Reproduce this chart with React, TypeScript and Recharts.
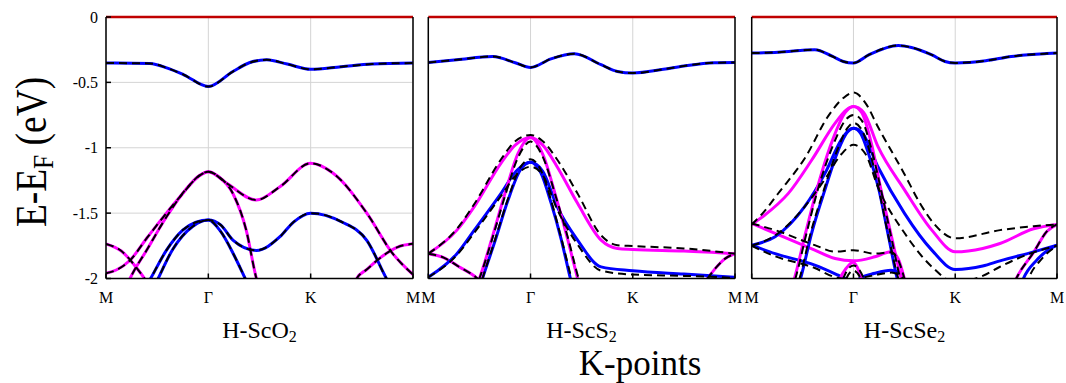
import React from 'react';
import { LineChart, Line, XAxis, YAxis, CartesianGrid, ReferenceLine } from 'recharts';

type Pt = [number, number];

// ---------- axes ----------
const kTicks = [0, 1, 2, 3];
const kLabels = ['M', 'Γ', 'K', 'M'];
const eTicks = [0, -0.5, -1, -1.5, -2];
const panelTitles = ['ScO', 'ScS', 'ScSe'];

// ---------- H-ScO2 bands (k, E) ----------
const p1Top: Pt[] = [[0,-0.352],[0.43,-0.355],[0.6,-0.391],[0.76,-0.442],[1.0,-0.532],[1.24,-0.417],[1.4,-0.35],[1.57,-0.327],[1.77,-0.36],[2.0,-0.40],[2.3,-0.38],[2.6,-0.36],[3.0,-0.352]];
const p1A: Pt[] = [[0,-1.96],[0.1,-1.935],[0.235,-1.86],[0.4,-1.69],[0.59,-1.50],[0.75,-1.35],[0.9,-1.22],[1.0,-1.183],[1.18,-1.272],[1.47,-1.40],[1.70,-1.298],[2.0,-1.119],[2.22,-1.195],[2.55,-1.502],[2.8,-1.808],[3.0,-1.97]];
const p1B: Pt[] = [[0.2,-2.06],[0.235,-2.0],[0.4,-1.78],[0.59,-1.53],[0.8,-1.30],[0.92,-1.21],[1.0,-1.183],[1.1,-1.22],[1.24,-1.35],[1.37,-1.63],[1.47,-2.0],[1.52,-2.12]];
const p1C: Pt[] = [[0,-1.735],[0.15,-1.79],[0.3,-1.92],[0.4,-2.03],[0.6,-2.4],[2.3,-2.4],[2.45,-2.0],[2.55,-1.93],[2.7,-1.83],[2.85,-1.76],[3.0,-1.735]];
const p1D: Pt[] = [[0.40,-2.05],[0.45,-1.98],[0.59,-1.785],[0.75,-1.63],[0.88,-1.57],[1.0,-1.553],[1.12,-1.59],[1.24,-1.706],[1.47,-1.785],[1.7,-1.68],[1.83,-1.57],[2.0,-1.50],[2.3,-1.566],[2.55,-1.71],[2.74,-2.0],[2.85,-2.15]];
const p1E: Pt[] = [[0.48,-2.05],[0.51,-2.0],[0.65,-1.78],[0.85,-1.6],[1.0,-1.553],[1.12,-1.64],[1.25,-1.82],[1.36,-2.0],[1.42,-2.1]];

// ---------- H-ScS2 bands ----------
const p2Top: Pt[] = [[0,-0.348],[0.28,-0.327],[0.63,-0.302],[0.85,-0.35],[1.0,-0.386],[1.2,-0.32],[1.43,-0.281],[1.69,-0.365],[1.85,-0.417],[2.0,-0.429],[2.3,-0.40],[2.5,-0.375],[2.8,-0.35],[3.0,-0.348]];
const p2MW: Pt[] = [[0,-1.81],[0.28,-1.63],[0.45,-1.45],[0.71,-1.119],[0.85,-0.98],[1.0,-0.922],[1.12,-0.98],[1.26,-1.145],[1.46,-1.425],[1.69,-1.706],[1.85,-1.77],[2.0,-1.778],[2.5,-1.79],[3.0,-1.81]];
const p2BW: Pt[] = [[0,-1.99],[0.28,-1.81],[0.45,-1.63],[0.71,-1.35],[0.87,-1.17],[1.0,-1.111],[1.12,-1.18],[1.26,-1.451],[1.46,-1.706],[1.69,-1.911],[2.0,-1.94],[2.5,-1.966],[3.0,-1.99]];
const p2MS: Pt[] = [[0.45,-2.1],[0.5,-2.0],[0.62,-1.7],[0.75,-1.35],[0.88,-1.04],[1.0,-0.922],[1.12,-1.05],[1.25,-1.38],[1.37,-1.72],[1.46,-2.0],[1.5,-2.12]];
const p2BS: Pt[] = [[0.49,-2.1],[0.53,-2.0],[0.65,-1.72],[0.78,-1.40],[0.9,-1.17],[1.0,-1.111],[1.1,-1.19],[1.2,-1.42],[1.3,-1.70],[1.39,-2.0],[1.43,-2.12]];
const p2C: Pt[] = [[0,-1.81],[0.15,-1.84],[0.3,-1.91],[0.48,-2.0],[0.6,-2.1],[1.0,-2.6],[2.0,-2.6],[2.5,-2.15],[2.73,-2.0],[2.8,-1.93],[2.9,-1.85],[3.0,-1.81]];
const p2MWd: Pt[] = [[0,-1.81],[0.28,-1.62],[0.45,-1.43],[0.71,-1.09],[0.85,-0.95],[1.0,-0.902],[1.12,-0.95],[1.26,-1.09],[1.46,-1.35],[1.69,-1.67],[1.85,-1.745],[2.0,-1.752],[2.5,-1.77],[3.0,-1.81]];
const p2BWd: Pt[] = [[0,-1.99],[0.28,-1.82],[0.45,-1.65],[0.71,-1.37],[0.87,-1.20],[1.0,-1.145],[1.12,-1.21],[1.26,-1.47],[1.46,-1.74],[1.69,-1.94],[2.0,-1.97],[2.5,-1.98],[3.0,-1.995]];
const p2MSd: Pt[] = [[0.45,-2.1],[0.5,-2.0],[0.62,-1.71],[0.75,-1.37],[0.88,-1.07],[1.0,-0.953],[1.12,-1.07],[1.25,-1.38],[1.37,-1.70],[1.47,-2.0],[1.52,-2.12]];
const p2BSd: Pt[] = [[0.49,-2.1],[0.53,-2.0],[0.65,-1.71],[0.78,-1.39],[0.9,-1.15],[1.0,-1.088],[1.1,-1.17],[1.2,-1.40],[1.3,-1.69],[1.40,-2.0],[1.44,-2.12]];

// ---------- H-ScSe2 bands ----------
const p3Top: Pt[] = [[0,-0.276],[0.26,-0.27],[0.62,-0.25],[0.79,-0.30],[0.9,-0.34],[1.0,-0.352],[1.15,-0.29],[1.44,-0.218],[1.57,-0.233],[1.77,-0.29],[1.9,-0.34],[2.0,-0.352],[2.3,-0.335],[2.55,-0.302],[2.9,-0.28],[3.0,-0.276]];
const p3MW: Pt[] = [[0,-1.587],[0.12,-1.52],[0.36,-1.349],[0.59,-1.094],[0.82,-0.812],[0.93,-0.71],[1.0,-0.685],[1.1,-0.73],[1.24,-0.99],[1.5,-1.32],[1.77,-1.63],[2.0,-1.796],[2.27,-1.77],[2.44,-1.732],[2.77,-1.62],[3.0,-1.587]];
const p3BW: Pt[] = [[0,-1.745],[0.23,-1.68],[0.52,-1.45],[0.72,-1.196],[0.88,-0.94],[0.95,-0.87],[1.0,-0.851],[1.08,-0.88],[1.24,-1.145],[1.5,-1.50],[1.77,-1.783],[2.0,-1.931],[2.27,-1.905],[2.44,-1.865],[2.77,-1.796],[3.0,-1.745]];
const p3MS: Pt[] = [[0.38,-2.1],[0.42,-2.0],[0.53,-1.65],[0.64,-1.32],[0.8,-0.93],[0.92,-0.73],[1.0,-0.685],[1.08,-0.73],[1.18,-0.98],[1.27,-1.32],[1.38,-1.70],[1.47,-2.0],[1.51,-2.1]];
const p3BS: Pt[] = [[0.44,-2.1],[0.48,-2.0],[0.59,-1.65],[0.72,-1.32],[0.85,-1.02],[0.94,-0.88],[1.0,-0.851],[1.07,-0.89],[1.15,-1.05],[1.25,-1.32],[1.35,-1.70],[1.43,-2.0],[1.47,-2.1]];
const p3ML: Pt[] = [[0,-1.579],[0.23,-1.655],[0.62,-1.783],[0.82,-1.847],[1.0,-1.865],[1.21,-1.834],[1.37,-1.795],[1.44,-1.85],[1.5,-2.0],[1.56,-2.2]];
const p3MR: Pt[] = [[2.45,-2.3],[2.6,-2.0],[2.77,-1.80],[2.9,-1.64],[3.0,-1.587]];
const p3MArc: Pt[] = [[0.83,-2.1],[0.87,-2.0],[0.93,-1.92],[1.0,-1.875],[1.04,-1.92],[1.08,-2.0],[1.11,-2.1]];
const p3BL: Pt[] = [[0,-1.745],[0.23,-1.81],[0.62,-1.898],[0.85,-1.975],[0.92,-2.0],[1.0,-2.05]];
const p3BLb: Pt[] = [[1.0,-2.06],[1.06,-2.0],[1.21,-1.96],[1.37,-1.937],[1.45,-1.96],[1.49,-2.0],[1.53,-2.1]];
const p3BR: Pt[] = [[2.55,-2.3],[2.67,-2.0],[2.8,-1.86],[2.9,-1.79],[3.0,-1.745]];
const p3DA: Pt[] = [[0,-1.587],[0.12,-1.49],[0.26,-1.35],[0.53,-1.07],[0.75,-0.76],[0.9,-0.62],[1.0,-0.578],[1.12,-0.66],[1.24,-0.84],[1.5,-1.20],[1.65,-1.42],[1.78,-1.57],[2.0,-1.693],[2.44,-1.63],[2.77,-1.60],[3.0,-1.587]];
const p3DB: Pt[] = [[0.39,-2.1],[0.43,-2.0],[0.54,-1.65],[0.65,-1.32],[0.8,-0.98],[0.92,-0.79],[1.0,-0.749],[1.08,-0.79],[1.18,-1.02],[1.27,-1.32],[1.37,-1.68],[1.46,-2.0],[1.5,-2.1]];
const p3DC: Pt[] = [[0.43,-2.1],[0.47,-2.0],[0.58,-1.65],[0.71,-1.32],[0.85,-1.0],[0.94,-0.85],[1.0,-0.81],[1.07,-0.85],[1.16,-1.03],[1.25,-1.32],[1.35,-1.70],[1.44,-2.0],[1.48,-2.1]];
const p3DD: Pt[] = [[0,-1.75],[0.25,-1.66],[0.5,-1.47],[0.72,-1.24],[0.88,-1.05],[1.0,-0.978],[1.12,-1.05],[1.24,-1.30],[1.5,-1.65],[1.77,-1.91],[2.0,-2.03],[2.27,-1.98],[2.44,-1.91],[2.77,-1.80],[3.0,-1.75]];
const p3DL: Pt[] = [[0,-1.579],[0.23,-1.63],[0.62,-1.745],[0.82,-1.795],[1.0,-1.783],[1.21,-1.81],[1.37,-1.80],[1.44,-1.86],[1.5,-2.0],[1.56,-2.2]];
const p3DBL: Pt[] = [[0,-1.75],[0.23,-1.83],[0.62,-1.92],[0.82,-1.99],[0.88,-2.0],[1.0,-2.08]];
const p3DBLb: Pt[] = [[1.02,-2.06],[1.08,-2.0],[1.21,-1.975],[1.37,-1.955],[1.45,-1.975],[1.5,-2.02],[1.54,-2.1]];
const p3DArc1: Pt[] = [[0.86,-2.1],[0.9,-2.0],[1.0,-1.90],[1.1,-2.0],[1.14,-2.1]];
const p3DArc2: Pt[] = [[0.9,-2.1],[0.93,-2.0],[1.0,-1.94],[1.07,-2.0],[1.1,-2.1]];
const p3DBR: Pt[] = [[2.62,-2.25],[2.72,-2.0],[2.85,-1.85],[3.0,-1.75]];

// ---------- styling ----------
const FONT = "'Liberation Serif', 'Times New Roman', 'DejaVu Serif', serif";
const BLUE = '#0000ff';
const MAG = '#ff00ff';

type Band = { pts: Pt[]; color: string };

const panels: { left: number; width: number; mLeft: number; yW: number; showY: boolean; solid: Band[]; dashed: Pt[][] }[] = [
  {
    left: 0, width: 420, mLeft: 0, yW: 106, showY: true,
    solid: [
      { pts: p1Top, color: BLUE }, { pts: p1A, color: MAG }, { pts: p1B, color: MAG }, { pts: p1C, color: MAG },
      { pts: p1D, color: BLUE }, { pts: p1E, color: BLUE },
    ],
    dashed: [p1Top, p1A, p1B, p1C, p1D, p1E],
  },
  {
    left: 420, width: 322, mLeft: 7.3, yW: 1, showY: false,
    solid: [
      { pts: p2Top, color: BLUE }, { pts: p2C, color: MAG }, { pts: p2BW, color: BLUE }, { pts: p2BS, color: BLUE },
      { pts: p2MW, color: MAG }, { pts: p2MS, color: MAG },
    ],
    dashed: [p2Top, p2C, p2MWd, p2BWd, p2MSd, p2BSd],
  },
  {
    left: 744, width: 320, mLeft: 6.7, yW: 1, showY: false,
    solid: [
      { pts: p3Top, color: BLUE }, { pts: p3BL, color: BLUE }, { pts: p3BLb, color: BLUE }, { pts: p3BR, color: BLUE },
      { pts: p3ML, color: MAG }, { pts: p3MR, color: MAG }, { pts: p3MArc, color: MAG },
      { pts: p3BW, color: BLUE }, { pts: p3BS, color: BLUE }, { pts: p3MW, color: MAG }, { pts: p3MS, color: MAG },
    ],
    dashed: [p3Top, p3DA, p3DB, p3DC, p3DD, p3DL, p3DBL, p3DBLb, p3DArc1, p3DArc2, p3MR, p3DBR],
  },
];

const toData = (pts: Pt[]) => pts.map(([k, e]) => ({ k, e }));

const tickStyle = { fontSize: 16, fontFamily: FONT, fill: '#000' };

function Panel(p: (typeof panels)[number]) {
  return (
    <div style={{ position: 'absolute', left: p.left, top: 0, fontFamily: FONT, fontSize: 16 }}>
      <LineChart width={p.width} height={383} margin={{ top: 16, right: 6, bottom: 0, left: p.mLeft }} style={{ fontFamily: FONT }}>
        <CartesianGrid xAxisId="b" yAxisId="l" stroke="#d4d4d4" strokeWidth={1} />
        <XAxis
          xAxisId="b" dataKey="k" type="number" domain={[0, 3]} ticks={kTicks} interval={0}
          tickFormatter={(v: number) => kLabels[v]} height={104.5} tickSize={-5} tickMargin={18}
          stroke="#000" strokeWidth={1.5} allowDataOverflow fontSize={16} fontFamily={FONT}
          tick={tickStyle}
        />
        <XAxis
          xAxisId="t" orientation="top" dataKey="k" type="number" domain={[0, 3]} ticks={kTicks} interval={0}
          height={1} tick={false} tickSize={-5} stroke="#000" strokeWidth={1.5} axisLine={false} allowDataOverflow
        />
        <YAxis
          yAxisId="l" type="number" domain={[-2, 0]} ticks={eTicks} interval={0} allowDataOverflow
          width={p.yW} tickSize={-5} tickMargin={13} stroke="#000" strokeWidth={1.5} fontSize={16} fontFamily={FONT}
          tick={p.showY ? tickStyle : false}
        />
        <YAxis
          yAxisId="r" orientation="right" type="number" domain={[-2, 0]} ticks={eTicks} interval={0} allowDataOverflow
          width={1} tickSize={-5} tick={false} stroke="#000" strokeWidth={1.5}
        />
        {p.solid.map((b, i) => (
          <Line
            key={'s' + i} xAxisId="b" yAxisId="l" data={toData(b.pts)} dataKey="e" type="monotone"
            stroke={b.color} strokeWidth={3} dot={false} activeDot={false} isAnimationActive={false}
          />
        ))}
        {p.dashed.map((pts, i) => (
          <Line
            key={'d' + i} xAxisId="b" yAxisId="l" data={toData(pts)} dataKey="e" type="monotone"
            stroke="#000" strokeWidth={2} strokeDasharray="8 5" dot={false} activeDot={false} isAnimationActive={false}
          />
        ))}
        <ReferenceLine xAxisId="b" yAxisId="l" y={0} stroke="#c00000" strokeWidth={2.5} />
      </LineChart>
    </div>
  );
}

const titleX = [259.5, 581.5, 904.5];

export default function App() {
  return (
    <div style={{ position: 'absolute', left: 0, top: 0, width: 1066, height: 383, background: '#fff' }}>
      {panels.map((p, i) => (
        <Panel key={i} {...p} />
      ))}
      <svg width={1066} height={383} style={{ position: 'absolute', left: 0, top: 0, pointerEvents: 'none' }}>
        <g fontFamily={FONT} fill="#000">
          {panelTitles.map((t, i) => (
            <text key={i} x={titleX[i]} y={338} textAnchor="middle" fontSize={24}>
              {'H-' + t}
              <tspan fontSize={16} dy={4}>2</tspan>
            </text>
          ))}
          <text x={640} y={375} textAnchor="middle" fontSize={35}>K-points</text>
          <text transform="translate(46,152) rotate(-90) scale(0.85,1)" textAnchor="middle" fontSize={44}>
            E-E<tspan fontSize={30} dy={7}>F</tspan>
            <tspan dy={-7}> (eV)</tspan>
          </text>
        </g>
      </svg>
    </div>
  );
}
